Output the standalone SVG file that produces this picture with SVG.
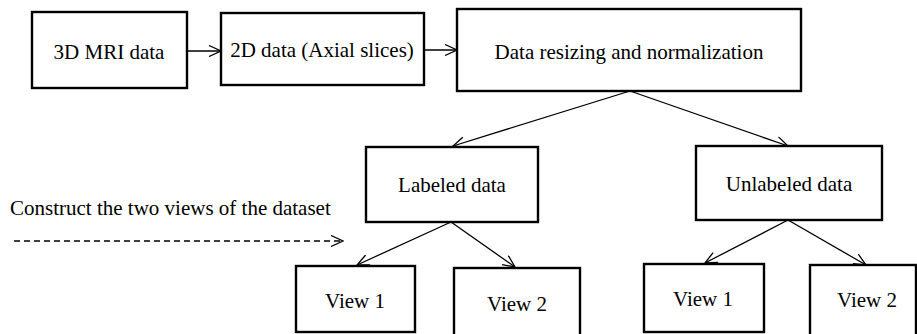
<svg xmlns="http://www.w3.org/2000/svg" width="917" height="334" viewBox="0 0 917 334">
  <style>
    .box rect { fill: #fff; stroke: #000; stroke-width: 2.4; }
    .box text, .note { font-family: "Liberation Serif", "Times New Roman", serif; font-size: 21px; fill: #000; text-anchor: middle; }
    .note { text-anchor: start; }
    .edge { fill: none; stroke: #000; stroke-width: 1.3; marker-end: url(#open); }
    .dashed { stroke-dasharray: 6 4; }
  </style>
  <defs>
    <marker id="open" viewBox="0 0 14 12" refX="13" refY="6" markerWidth="14" markerHeight="12" markerUnits="userSpaceOnUse" orient="auto">
      <path d="M1,0.5 L13,6 L1,11.5" fill="none" stroke="#000" stroke-width="1.3"/>
    </marker>
  </defs>

  <g id="connectors">
    <line class="edge" x1="184" y1="51" x2="221" y2="51"/>
    <line class="edge" x1="424" y1="50" x2="457" y2="50"/>
    <line class="edge" x1="630" y1="91" x2="453" y2="146"/>
    <line class="edge" x1="630" y1="91" x2="788" y2="146"/>
    <line class="edge" x1="451" y1="222" x2="357" y2="265"/>
    <line class="edge" x1="451" y1="222" x2="515" y2="267"/>
    <line class="edge" x1="788" y1="220" x2="705" y2="263"/>
    <line class="edge" x1="788" y1="220" x2="866" y2="265"/>
    <line class="edge dashed" x1="14" y1="241" x2="343" y2="241"/>
  </g>

  <g id="mri3d" class="box">
    <rect x="32" y="12" width="155" height="76"/>
    <text x="109" y="59">3D MRI data</text>
  </g>
  <g id="slices2d" class="box">
    <rect x="221" y="13" width="203" height="72"/>
    <text x="322" y="57">2D data (Axial slices)</text>
  </g>
  <g id="resize" class="box">
    <rect x="457" y="9" width="344" height="82"/>
    <text x="629" y="59">Data resizing and normalization</text>
  </g>
  <g id="labeled" class="box">
    <rect x="366" y="147" width="172" height="75"/>
    <text x="452" y="192">Labeled data</text>
  </g>
  <g id="unlabeled" class="box">
    <rect x="696" y="146" width="186" height="74"/>
    <text x="789" y="191">Unlabeled data</text>
  </g>
  <g id="labeled-view1" class="box">
    <rect x="296" y="266" width="119" height="66"/>
    <text x="355" y="308">View 1</text>
  </g>
  <g id="labeled-view2" class="box">
    <rect x="454" y="268" width="126" height="70"/>
    <text x="517" y="311">View 2</text>
  </g>
  <g id="unlabeled-view1" class="box">
    <rect x="644" y="264" width="120" height="68"/>
    <text x="703" y="306">View 1</text>
  </g>
  <g id="unlabeled-view2" class="box">
    <rect x="810" y="265" width="106" height="72"/>
    <text x="867" y="307">View 2</text>
  </g>

  <text class="note" x="10" y="215">Construct the two views of the dataset</text>
</svg>
